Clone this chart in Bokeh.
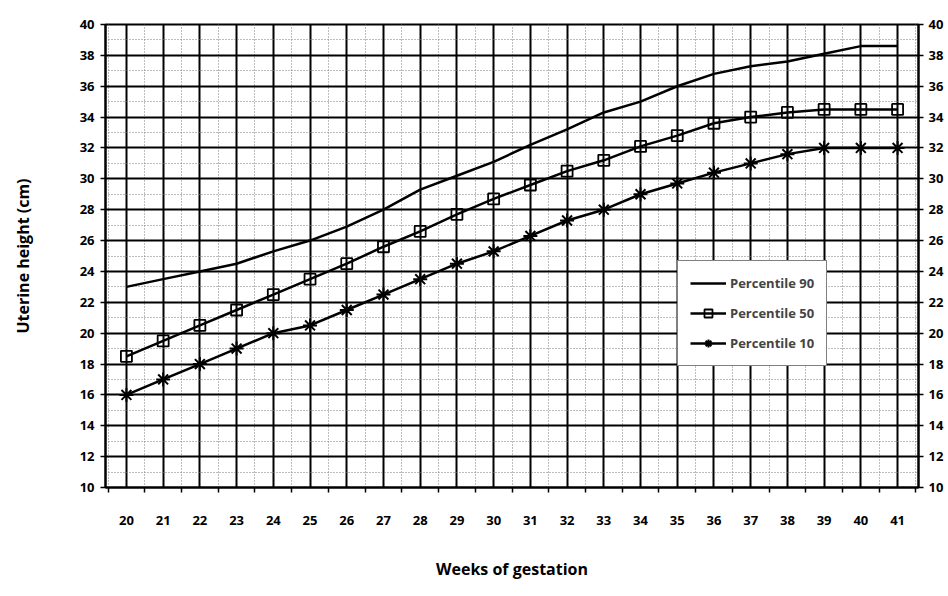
from bokeh.plotting import figure
from bokeh.models import FixedTicker, LinearAxis, Range1d, Legend, LegendItem
from bokeh.embed import file_html
from bokeh.resources import INLINE

weeks = list(range(20, 42))
p90 = [23.0, 23.5, 24.0, 24.5, 25.3, 26.0, 26.9, 28.0, 29.3, 30.2, 31.1, 32.2, 33.2, 34.3, 35.0, 36.0, 36.8, 37.3, 37.6, 38.1, 38.6, 38.6]
p50 = [18.5, 19.5, 20.5, 21.5, 22.5, 23.5, 24.5, 25.6, 26.6, 27.7, 28.7, 29.6, 30.5, 31.2, 32.1, 32.8, 33.6, 34.0, 34.3, 34.5, 34.5, 34.5]
p10 = [16.0, 17.0, 18.0, 19.0, 20.0, 20.5, 21.5, 22.5, 23.5, 24.5, 25.3, 26.3, 27.3, 28.0, 29.0, 29.7, 30.4, 31.0, 31.6, 32.0, 32.0, 32.0]
y_ticks = list(range(10, 41, 2))
y_minor = list(range(11, 40, 2))
x_bounds = [w - 0.5 for w in weeks] + [weeks[-1] + 0.5]

FONT = "Open Sans"

p = figure(frame_width=813, frame_height=463, output_backend="svg", toolbar_location=None,
           x_range=Range1d(19.43, 41.57), y_range=Range1d(10, 40),
           min_border_left=105, min_border_right=20, min_border_top=24, min_border_bottom=101,
           background_fill_color="white", border_fill_color="white")
p.outline_line_color = "black"
p.outline_line_width = 2

xt = FixedTicker(ticks=weeks, minor_ticks=x_bounds)
yt = FixedTicker(ticks=y_ticks, minor_ticks=y_minor)
p.xaxis.ticker = xt
p.yaxis.ticker = yt

for g, t in ((p.xgrid, xt), (p.ygrid, yt)):
    g.ticker = t
    g.grid_line_color = "black"
    g.grid_line_width = 2
    g.minor_grid_line_color = "#7a7a7a"
    g.minor_grid_line_dash = "1 2"
    g.minor_grid_line_width = 1

ax = p.xaxis[0]
ax.major_tick_out = 0
ax.major_tick_in = 0
ax.minor_tick_out = 5
ax.minor_tick_in = 0
ax.minor_tick_line_color = "black"
ax.minor_tick_line_width = 1.5
ax.major_label_standoff = 23
ax.axis_label = "Weeks of gestation"
ax.axis_label_standoff = 30

ay = p.yaxis[0]
ay.axis_label = "Uterine height (cm)"
ay.axis_label_standoff = 43
ay.major_label_standoff = 6

ar = LinearAxis(ticker=yt)
ar.major_label_standoff = 5
p.add_layout(ar, "right")

for a in (ax, ay, ar):
    a.axis_line_color = "black"
    a.axis_line_width = 2
    a.major_label_text_font = FONT
    a.major_label_text_font_style = "bold"
    a.major_label_text_font_size = "13px"
    a.major_label_text_color = "black"
    a.axis_label_text_font = FONT
    a.axis_label_text_font_style = "bold"
    a.axis_label_text_font_size = "16px"
    a.axis_label_text_color = "black"
for a in (ay, ar):
    a.major_tick_out = 5
    a.major_tick_in = 0
    a.major_tick_line_width = 1.5
    a.minor_tick_out = 0
    a.minor_tick_in = 0

l90 = p.line(weeks, p90, line_color="black", line_width=2.5)
l50 = p.line(weeks, p50, line_color="black", line_width=2.5)
s50 = p.scatter(weeks, p50, marker="square", size=11, fill_color=None, line_color="black", line_width=1.8)
l10 = p.line(weeks, p10, line_color="black", line_width=2.5)
s10 = p.scatter(weeks, p10, marker="asterisk", size=14, line_color="black", line_width=2)

legend = Legend(items=[
    LegendItem(label="Percentile 90", renderers=[l90]),
    LegendItem(label="Percentile 50", renderers=[l50, s50]),
    LegendItem(label="Percentile 10", renderers=[l10, s10]),
], location=(572, 121))
legend.border_line_color = "black"
legend.border_line_width = 1.5
legend.background_fill_color = "white"
legend.background_fill_alpha = 1
legend.label_text_font = FONT
legend.label_text_font_style = "bold"
legend.label_text_font_size = "13px"
legend.glyph_width = 36
legend.glyph_height = 20
legend.spacing = 10
legend.padding = 12
legend.margin = 0
legend.label_standoff = 4
p.add_layout(legend, "center")

open("out.html", "w").write(file_html(p, INLINE))
